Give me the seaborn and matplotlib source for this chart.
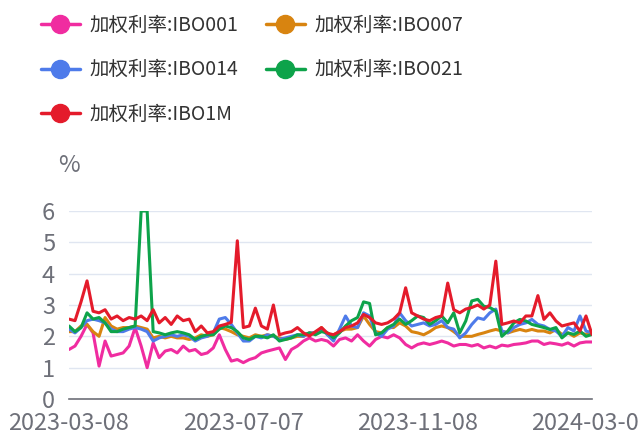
import numpy as np
import pandas as pd
import seaborn as sns
import matplotlib.pyplot as plt
from matplotlib.lines import Line2D

# weighted interbank rates, sampled ~every 4 calendar days, 2023-03-08 .. 2024-03-08
ibo001 = [1.58, 1.69, 2.0, 2.38, 2.11, 1.05, 1.85, 1.37, 1.42, 1.47, 1.69, 2.28, 1.69, 1.0, 1.79, 1.32, 1.53, 1.58, 1.47, 1.69, 1.53, 1.58,
          1.42, 1.47, 1.63, 2.05, 1.58, 1.21, 1.26, 1.16, 1.26, 1.32, 1.47, 1.53, 1.58, 1.63, 1.26, 1.58, 1.69, 1.85, 1.95, 1.85, 1.9, 1.85,
          1.69, 1.9, 1.95, 1.85, 2.05, 1.85, 1.69, 1.9, 2.0, 1.95, 2.05, 1.95, 1.74, 1.63, 1.74, 1.79, 1.74, 1.79, 1.85, 1.79, 1.69, 1.74,
          1.74, 1.69, 1.74, 1.63, 1.69, 1.63, 1.72, 1.69, 1.74, 1.76, 1.79, 1.85, 1.85, 1.74, 1.79, 1.76, 1.72, 1.79, 1.69, 1.79, 1.82, 1.82]
ibo007 = [2.15, 2.15, 2.33, 2.38, 2.15, 2.0, 2.6, 2.33, 2.23, 2.28, 2.28, 2.33, 2.28, 2.23, 1.95, 2.0, 1.95, 2.0, 1.95, 1.95, 1.9, 1.95,
          2.05, 2.0, 2.05, 2.28, 2.23, 2.15, 2.05, 2.0, 1.95, 2.05, 2.0, 2.05, 2.0, 1.95, 1.9, 1.95, 2.0, 2.0, 2.11, 2.11, 2.28, 2.05,
          2.05, 2.15, 2.23, 2.23, 2.28, 2.65, 2.38, 2.15, 2.11, 2.28, 2.28, 2.43, 2.33, 2.15, 2.11, 2.05, 2.15, 2.28, 2.33, 2.28, 2.15, 2.0,
          2.0, 2.0, 2.06, 2.11, 2.17, 2.22, 2.17, 2.11, 2.17, 2.22, 2.17, 2.22, 2.17, 2.17, 2.11, 2.22, 2.06, 2.11, 2.0, 2.11, 2.06, 2.17]
ibo014 = [2.23, 2.11, 2.28, 2.5, 2.55, 2.5, 2.43, 2.23, 2.15, 2.15, 2.23, 2.28, 2.23, 2.15, 1.85, 1.95, 2.0, 2.05, 2.0, 2.05, 2.0, 1.85,
          1.95, 2.0, 2.11, 2.55, 2.6, 2.38, 2.11, 1.85, 1.85, 2.0, 1.95, 2.05, 2.0, 1.9, 1.95, 2.0, 2.05, 2.0, 2.11, 2.11, 2.23, 2.05,
          1.85, 2.23, 2.65, 2.33, 2.28, 2.75, 2.65, 2.11, 2.0, 2.23, 2.33, 2.75, 2.5, 2.33, 2.38, 2.43, 2.33, 2.38, 2.5, 2.28, 2.23, 1.95,
          2.11, 2.38, 2.59, 2.54, 2.75, 2.87, 2.17, 2.11, 2.28, 2.38, 2.43, 2.54, 2.38, 2.33, 2.22, 2.17, 2.0, 2.28, 2.17, 2.65, 2.17, 2.11]
ibo021 = [2.33, 2.15, 2.28, 2.75, 2.55, 2.6, 2.43, 2.15, 2.15, 2.23, 2.28, 2.33, 6.0, 6.0, 2.15, 2.11, 2.05, 2.11, 2.15, 2.11, 2.05, 1.9,
          2.0, 2.05, 2.05, 2.23, 2.33, 2.28, 2.15, 1.95, 1.9, 2.0, 2.0, 1.95, 2.05, 1.85, 1.9, 1.95, 2.05, 2.05, 2.11, 2.05, 2.15, 2.11,
          1.95, 2.11, 2.33, 2.5, 2.6, 3.1, 3.05, 2.05, 2.11, 2.28, 2.38, 2.55, 2.38, 2.5, 2.65, 2.6, 2.38, 2.5, 2.65, 2.43, 2.75, 2.11,
          2.49, 3.13, 3.18, 2.96, 2.92, 2.81, 2.0, 2.17, 2.43, 2.54, 2.49, 2.38, 2.33, 2.28, 2.22, 2.28, 1.95, 2.11, 2.06, 2.17, 2.0, 2.06]
ibo1m = [2.55, 2.5, 3.1, 3.77, 2.8, 2.75, 2.85, 2.55, 2.65, 2.5, 2.6, 2.55, 2.65, 2.5, 2.85, 2.43, 2.6, 2.38, 2.65, 2.5, 2.55, 2.15,
         2.33, 2.11, 2.15, 2.33, 2.38, 2.45, 5.05, 2.28, 2.33, 2.9, 2.33, 2.23, 3.0, 2.05, 2.11, 2.15, 2.28, 2.11, 2.01, 2.15, 2.28, 2.1,
         2.05, 2.15, 2.28, 2.33, 2.43, 2.7, 2.6, 2.43, 2.38, 2.43, 2.55, 2.75, 3.55, 2.75, 2.65, 2.55, 2.5, 2.6, 2.65, 3.7, 2.85, 2.75,
         2.87, 2.92, 3.0, 2.87, 3.0, 4.4, 2.38, 2.43, 2.49, 2.43, 2.65, 2.65, 3.3, 2.54, 2.75, 2.49, 2.33, 2.38, 2.43, 2.17, 2.65, 2.06]

names = ["加权利率:IBO001", "加权利率:IBO007", "加权利率:IBO014", "加权利率:IBO021", "加权利率:IBO1M"]
colors = ["#F02CA0", "#D88410", "#4E7BEA", "#0DA34A", "#E41B2B"]
tick_pos = [0, 29, 58, 87]
tick_labels = ["2023-03-08", "2023-07-07", "2023-11-08", "2024-03-08"]

series = [ibo001, ibo007, ibo014, ibo021, ibo1m]
df = pd.concat([pd.DataFrame({"idx": np.arange(len(v)), "rate": v, "name": n})
                for n, v in zip(names, series)], ignore_index=True)

sns.set_style("white")
plt.rcParams['font.family'] = ['Noto Sans CJK SC', 'DejaVu Sans']
grey = "#6E7079"

fig = plt.figure(figsize=(6.38, 4.34), dpi=100)
ax = fig.add_axes([69 / 638, 35 / 434, 523 / 638, 188 / 434])

sns.lineplot(data=df, x="idx", y="rate", hue="name", hue_order=names,
             palette=dict(zip(names, colors)), linewidth=2.2, legend=False, ax=ax)

ax.set_xlim(0, 87)
ax.set_ylim(0, 6)
ax.set_yticks(range(0, 7))
ax.set_xticks(tick_pos)
ax.set_xticklabels(tick_labels)
ax.set_xlabel("")
ax.set_ylabel("")
ax.yaxis.grid(True, color="#E0E6F1", linewidth=1)
ax.set_axisbelow(True)
for s in ["left", "top", "right"]:
    ax.spines[s].set_visible(False)
ax.spines["bottom"].set_color(grey)
ax.spines["bottom"].set_linewidth(1.2)
ax.tick_params(axis="x", length=4, width=1.2, color=grey, pad=5, labelsize=17, labelcolor=grey)
ax.tick_params(axis="y", length=0, pad=10, labelsize=17, labelcolor=grey)

fig.text(69 / 638, 1 - 165 / 434, "%", ha="center", va="center", fontsize=17, color=grey)

# legend reads row by row: 001 007 / 014 021 / 1M
order = [0, 2, 4, 1, 3]
handles = [Line2D([0], [0], color=colors[i], linewidth=2.5, marker="o", markersize=13) for i in order]
fig.legend(handles, [names[i] for i in order], loc="upper left", bbox_to_anchor=(41 / 638, 1 - 15 / 434),
           ncol=2, frameon=False, fontsize=14, handlelength=2.0, handletextpad=0.5,
           columnspacing=1.4, labelspacing=1.2, borderpad=0, borderaxespad=0, labelcolor="#333333")

fig.savefig("out.png", dpi=100)
